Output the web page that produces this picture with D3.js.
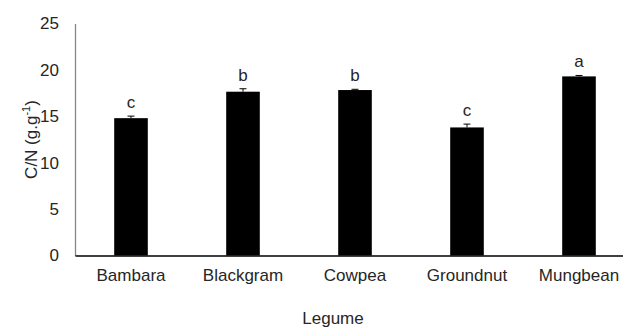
<!DOCTYPE html>
<html>
<head>
<meta charset="utf-8">
<script src="https://cdn.jsdelivr.net/npm/d3@7"></script>
<style>
  body { margin: 0; background: #fff; }
  text { font-family: Arial, "Liberation Sans", sans-serif; fill: #262626; }
</style>
</head>
<body>
<div id="chart"></div>
<script>
// data
const legumes = ["Bambara", "Blackgram", "Cowpea", "Groundnut", "Mungbean"];
const cnRatio = [14.8, 17.65, 17.83, 13.8, 19.3];
const cnError = [0.22, 0.32, 0.08, 0.36, 0.1];
const groups = ["c", "b", "b", "c", "a"];
const yTicks = [0, 5, 10, 15, 20, 25];

const width = 623, height = 327;
const plotLeft = 75, plotTop = 23.5, plotBottom = 255.5, plotRight = 635;

const svg = d3.select("#chart")
  .append("svg")
  .attr("width", width)
  .attr("height", height);

const x = d3.scaleBand()
  .domain(legumes)
  .range([plotLeft, plotRight])
  .paddingInner(0.7)
  .paddingOuter(0.35);

const y = d3.scaleLinear()
  .domain([0, 25])
  .range([plotBottom, plotTop]);

// y axis
const yAxis = svg.append("g")
  .attr("transform", `translate(${plotLeft},0)`)
  .call(d3.axisLeft(y).tickValues(yTicks).tickSize(0).tickPadding(16));
yAxis.select(".domain").attr("stroke", "#868686").attr("stroke-width", 1.3);
yAxis.selectAll("text").attr("font-size", 17).attr("fill", "#262626");

// bars
const rows = legumes.map((d, i) => ({ name: d, v: cnRatio[i], e: cnError[i], g: groups[i] }));

svg.append("g").selectAll("rect")
  .data(rows)
  .join("rect")
  .attr("x", d => x(d.name))
  .attr("y", d => y(d.v))
  .attr("width", x.bandwidth())
  .attr("height", d => y(0) - y(d.v))
  .attr("fill", "#000");

// error bars
const eb = svg.append("g").selectAll("g")
  .data(rows)
  .join("g")
  .attr("stroke", "#000")
  .attr("stroke-width", 1);
eb.append("line")
  .attr("x1", d => x(d.name) + x.bandwidth() / 2)
  .attr("x2", d => x(d.name) + x.bandwidth() / 2)
  .attr("y1", d => y(d.v))
  .attr("y2", d => y(d.v + d.e));
eb.append("line")
  .attr("x1", d => x(d.name) + x.bandwidth() / 2 - 3.5)
  .attr("x2", d => x(d.name) + x.bandwidth() / 2 + 3.5)
  .attr("y1", d => y(d.v + d.e))
  .attr("y2", d => y(d.v + d.e));

// significance letters
svg.append("g").selectAll("text")
  .data(rows)
  .join("text")
  .attr("x", d => x(d.name) + x.bandwidth() / 2)
  .attr("y", d => y(d.v + d.e) - 8)
  .attr("text-anchor", "middle")
  .attr("font-size", 17)
  .text(d => d.g);

// x axis
const xAxis = svg.append("g")
  .attr("transform", `translate(0,${plotBottom})`)
  .call(d3.axisBottom(x).tickSize(0).tickPadding(13));
xAxis.select(".domain").attr("stroke", "#000").attr("stroke-width", 1.3);
xAxis.selectAll("text").attr("font-size", 17).attr("fill", "#262626");

// axis titles
svg.append("text")
  .attr("x", 333)
  .attr("y", 324)
  .attr("text-anchor", "middle")
  .attr("font-size", 17)
  .text("Legume");

const yl = svg.append("text")
  .attr("transform", `translate(37,${(plotTop + plotBottom) / 2}) rotate(-90)`)
  .attr("text-anchor", "middle")
  .attr("font-size", 17);
yl.append("tspan").text("C/N (g.g");
yl.append("tspan").attr("font-size", 11).attr("dy", -7).text("-1");
yl.append("tspan").attr("dy", 7).text(")");
</script>
</body>
</html>
